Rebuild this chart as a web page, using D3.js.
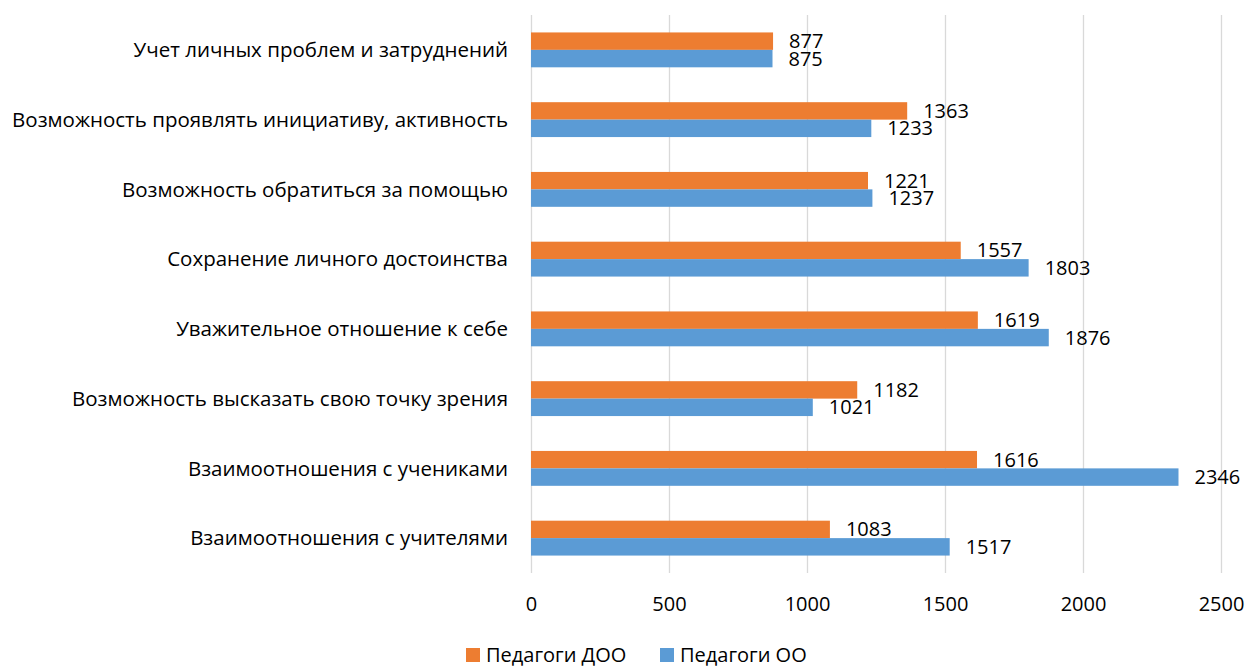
<!DOCTYPE html>
<html>
<head>
<meta charset="utf-8">
<script src="https://cdn.jsdelivr.net/npm/d3@7"></script>
<style>
  body { margin: 0; background: #fff; }
  svg text { font-family: "Open Sans", sans-serif; fill: #000; }
</style>
</head>
<body>
<div id="chart"></div>
<script>
// categories, top to bottom
const categories = [
  'Учет личных проблем и затруднений',
  'Возможность проявлять инициативу, активность',
  'Возможность обратиться за помощью',
  'Сохранение личного достоинства',
  'Уважительное отношение к себе',
  'Возможность высказать свою точку зрения',
  'Взаимоотношения с учениками',
  'Взаимоотношения с учителями'
];
const seriesNames = ['Педагоги ДОО', 'Педагоги ОО'];
const valuesDOO = [877, 1363, 1221, 1557, 1619, 1182, 1616, 1083];
const valuesOO = [875, 1233, 1237, 1803, 1876, 1021, 2346, 1517];
const xTicks = [0, 500, 1000, 1500, 2000, 2500];

const width = 1247;
const height = 669;
const plot = { left: 531, right: 1221, top: 15, bottom: 573 };
const colors = ['#ED7D31', '#5B9BD5'];

const svg = d3.select('#chart')
  .append('svg')
  .attr('width', width)
  .attr('height', height);

const x = d3.scaleLinear().domain([0, 2500]).range([plot.left, plot.right]);

const y = d3.scaleBand()
  .domain(categories)
  .range([plot.top, plot.bottom])
  .paddingInner(0.5)
  .paddingOuter(0.25);

const ySub = d3.scaleBand()
  .domain(seriesNames)
  .range([0, y.bandwidth()]);

// grid
const grid = d3.axisBottom(x)
  .tickValues(xTicks)
  .tickFormat(() => '')
  .tickSize(-(plot.bottom - plot.top));

svg.append('g')
  .attr('transform', `translate(0, ${plot.bottom})`)
  .call(grid)
  .call(g => g.select('.domain').remove())
  .call(g => g.selectAll('line').attr('stroke', '#d9d9d9').attr('stroke-width', 1.3));

// x labels
svg.append('g')
  .attr('transform', `translate(0, ${plot.bottom})`)
  .call(d3.axisBottom(x).tickValues(xTicks).tickFormat(d3.format('d')).tickSize(0).tickPadding(24))
  .call(g => g.select('.domain').remove())
  .call(g => g.selectAll('text').attr('font-size', 20).attr('font-family', '"Open Sans", sans-serif').attr('fill', '#000'));

// category labels
svg.append('g')
  .selectAll('text')
  .data(categories)
  .enter()
  .append('text')
  .attr('x', plot.left - 23)
  .attr('y', d => y(d) + y.bandwidth() / 2)
  .attr('dy', '0.35em')
  .attr('text-anchor', 'end')
  .attr('font-size', 20.5)
  .text(d => d);

const rows = categories.map((c, i) => ({ cat: c, vals: [valuesDOO[i], valuesOO[i]] }));

const groups = svg.append('g')
  .selectAll('g')
  .data(rows)
  .enter()
  .append('g')
  .attr('transform', d => `translate(0, ${y(d.cat)})`);

groups.selectAll('rect')
  .data(d => d.vals.map((v, j) => ({ v, s: seriesNames[j], j })))
  .enter()
  .append('rect')
  .attr('x', x(0))
  .attr('y', d => ySub(d.s))
  .attr('width', d => x(d.v) - x(0))
  .attr('height', ySub.bandwidth())
  .attr('fill', d => colors[d.j]);

groups.selectAll('text')
  .data(d => d.vals.map((v, j) => ({ v, s: seriesNames[j], j })))
  .enter()
  .append('text')
  .attr('x', d => x(d.v) + 16)
  .attr('y', d => ySub(d.s) + ySub.bandwidth() / 2)
  .attr('dy', '0.35em')
  .attr('font-size', 20)
  .text(d => d.v);

// legend
const legend = svg.append('g').attr('transform', 'translate(466, 648)');
const legendX = [0, 194];
seriesNames.forEach((name, i) => {
  const item = legend.append('g').attr('transform', `translate(${legendX[i]}, 0)`);
  item.append('rect')
    .attr('width', 14)
    .attr('height', 14)
    .attr('fill', colors[i]);
  item.append('text')
    .attr('x', 20)
    .attr('y', 7)
    .attr('dy', '0.35em')
    .attr('font-size', 20)
    .text(name);
});
</script>
</body>
</html>
